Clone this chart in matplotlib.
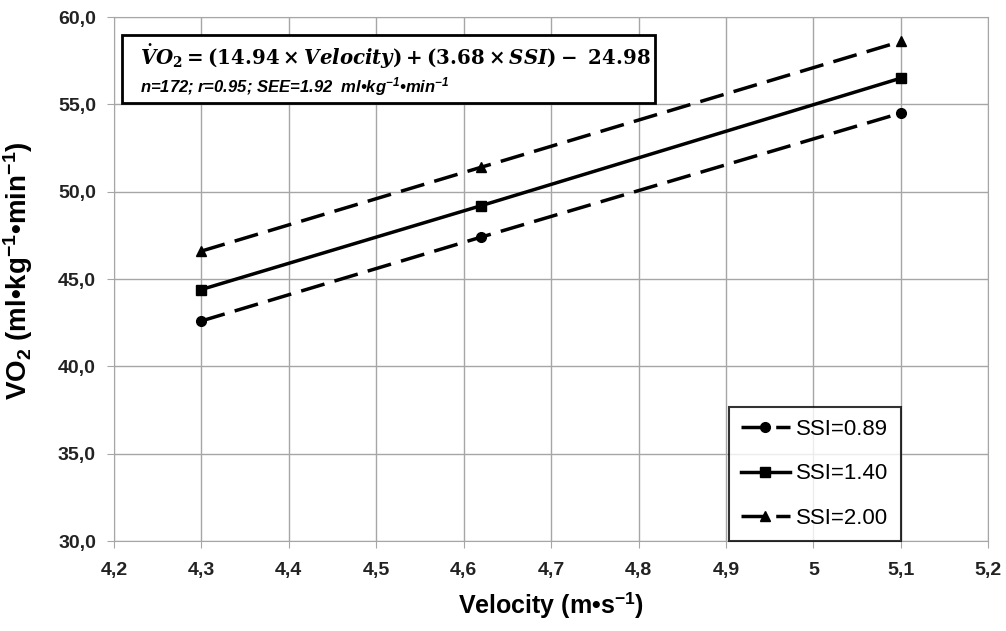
import matplotlib
matplotlib.use("Agg")
import matplotlib.pyplot as plt
from matplotlib.ticker import FuncFormatter, MultipleLocator
from matplotlib.patches import Rectangle

velocity = [4.3, 4.62, 5.1]
ssi_089 = [42.6, 47.4, 54.5]
ssi_140 = [44.4, 49.2, 56.5]
ssi_200 = [46.6, 51.4, 58.6]
labels = ["SSI=0.89", "SSI=1.40", "SSI=2.00"]

plt.rcParams['font.family'] = ['Liberation Sans', 'DejaVu Sans']
plt.rcParams['mathtext.fontset'] = 'custom'
plt.rcParams['mathtext.rm'] = 'DejaVu Serif:bold'
plt.rcParams['mathtext.bf'] = 'DejaVu Serif:bold'
plt.rcParams['mathtext.it'] = 'DejaVu Serif:italic:bold'

fig = plt.figure(figsize=(10.06, 6.31), dpi=100)
ax = fig.add_axes([0.1133, 0.1426, 0.869, 0.8304])

dash = (0, (7, 3))
ax.plot(velocity, ssi_089, color='black', lw=2.5, ls=dash, marker='o', ms=7, label=labels[0])
ax.plot(velocity, ssi_140, color='black', lw=2.5, ls='-', marker='s', ms=7, label=labels[1])
ax.plot(velocity, ssi_200, color='black', lw=2.5, ls=dash, marker='^', ms=7, label=labels[2])

ax.set_xlim(4.2, 5.2)
ax.set_ylim(30, 60)
ax.xaxis.set_major_locator(MultipleLocator(0.1))
ax.yaxis.set_major_locator(MultipleLocator(5))

def xfmt(v, pos):
    s = f"{v:.1f}".rstrip('0').rstrip('.')
    return s.replace('.', ',')
ax.xaxis.set_major_formatter(FuncFormatter(xfmt))
ax.yaxis.set_major_formatter(FuncFormatter(lambda v, p: f"{v:.1f}".replace('.', ',')))

ax.grid(True, color='#a6a6a6', lw=1)
ax.set_axisbelow(True)
for s in ax.spines.values():
    s.set_color('#a6a6a6')
ax.tick_params(axis='both', direction='out', length=5, color='#a6a6a6', labelsize=14, pad=8,
               labelcolor='#222222')
ax.tick_params(axis='x', pad=10)
plt.setp(ax.xaxis.get_majorticklabels(), fontweight='bold')
plt.setp(ax.yaxis.get_majorticklabels(), fontweight='bold')

ax.set_xlabel(r"Velocity (m•s$^{\mathregular{-1}}$)", fontsize=18, fontweight='bold', labelpad=8)
ax.set_ylabel(r"VO$_\mathregular{2}$ (ml•kg$^{\mathregular{-1}}$•min$^{\mathregular{-1}}$)", fontsize=20, fontweight='bold')
ax.yaxis.set_label_coords(-0.09, 0.515)

leg = ax.legend(loc='lower right', fontsize=16, frameon=True, fancybox=False, edgecolor='black',
                handlelength=2.2, borderpad=0.55, labelspacing=1.05, handletextpad=0.3,
                borderaxespad=0.0, bbox_to_anchor=(0.9, 0.0))
leg.get_frame().set_linewidth(1.5)

box = Rectangle((0.009, 0.836), 0.61, 0.13, transform=ax.transAxes, fc='white', ec='black', lw=2, zorder=5)
ax.add_patch(box)
eq = r"$\dot{V}O_2 = (14.94\times \mathit{Velocity}) + (3.68\times \mathit{SSI}) -\ 24.98$"
sub = r"n=172; r=0.95; SEE=1.92  ml•kg$^{\mathregular{-1}}$•min$^{\mathregular{-1}}$"
ax.text(0.03, 0.924, eq, transform=ax.transAxes, fontsize=14.2, va='center', ha='left', zorder=6)
ax.text(0.03, 0.868, sub, transform=ax.transAxes, fontsize=12, style='italic', fontweight='bold',
        va='center', ha='left', zorder=6)

fig.savefig("out.png", dpi=100)
